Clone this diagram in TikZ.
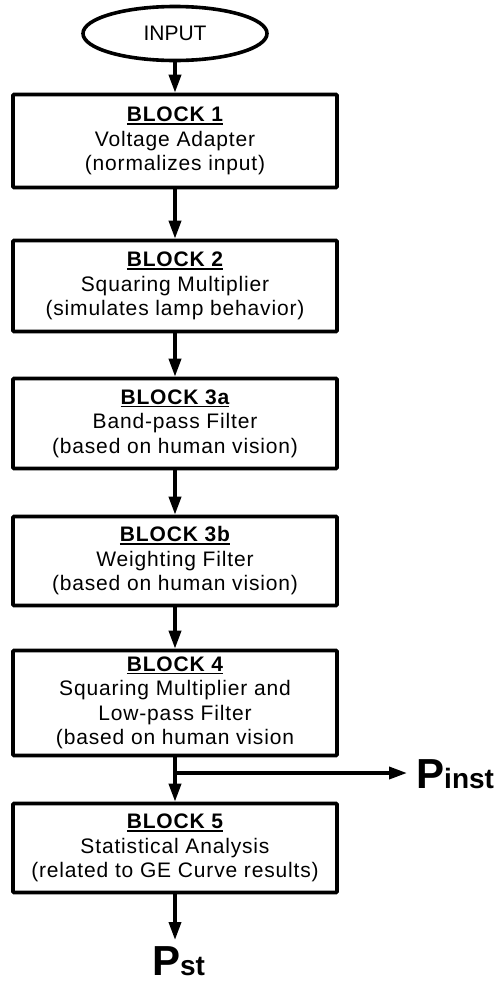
\documentclass[tikz,border=0pt]{standalone}
\usepackage{fontspec}
\setmainfont{Liberation Sans}
\newfontfamily\boxfont[LetterSpace=4]{Liberation Sans}
\usetikzlibrary{arrows.meta,shapes.geometric}

% bold, underlined block heading
\newcommand\blocktitle[1]{\setbox0=\hbox{\bfseries #1}\rlap{\raisebox{-3pt}{\rule{\wd0}{1.5pt}}}\box0}

\tikzset{
  blockbox/.style={draw, line width=3.6pt, minimum width=324pt, align=center,
    inner sep=0pt, rounded corners=1pt,
    font=\boxfont\fontsize{21}{24.5}\selectfont},
  startnode/.style={ellipse, draw, line width=3.6pt, minimum width=184pt,
    minimum height=54pt, inner sep=0pt, font=\fontsize{21}{24}\selectfont},
  arr/.style={line width=3.6pt, -{Triangle[length=18pt,width=12pt]}},
  outlabel/.style={inner sep=0pt, font=\bfseries}
}

\begin{document}
\begin{tikzpicture}[x=1pt,y=-1pt]
\useasboundingbox (0,0) rectangle (500,983);

\node[startnode] (in) at (175,33.5) {INPUT};

\node[blockbox, minimum height=93pt] (b1) at (175,141)
  {\blocktitle{BLOCK 1}\\Voltage Adapter\\(normalizes input)};
\node[blockbox, minimum height=91pt] (b2) at (175,286)
  {\blocktitle{BLOCK 2}\\Squaring Multiplier\\(simulates lamp behavior)};
\node[blockbox, minimum height=90pt] (b3a) at (175,423.5)
  {\blocktitle{BLOCK 3a}\\Band-pass Filter\\(based on human vision)};
\node[blockbox, minimum height=89pt] (b3b) at (175,561)
  {\blocktitle{BLOCK 3b}\\Weighting Filter\\(based on human vision)};
\node[blockbox, minimum height=105pt] (b4) at (175,703)
  {\blocktitle{BLOCK 4}\\Squaring Multiplier and\\Low-pass Filter\\(based on human vision};
\node[blockbox, minimum height=89pt] (b5) at (175,848)
  {\blocktitle{BLOCK 5}\\Statistical Analysis\\(related to GE Curve results)};

\node[outlabel, anchor=base west] (pinst) at (416,788)
  {\fontsize{42}{42}\selectfont P\fontsize{28}{28}\selectfont inst};
\node[outlabel, anchor=base] (pst) at (178.5,975)
  {\fontsize{42}{42}\selectfont P\fontsize{28}{28}\selectfont st};

\coordinate (j) at (175,773);
\coordinate (tipinst) at (407,773);
\coordinate (tipst) at (175,940);

\draw[arr] (in.south) -- (b1.north);
\draw[arr] (b1.south) -- (b2.north);
\draw[arr] (b2.south) -- (b3a.north);
\draw[arr] (b3a.south) -- (b3b.north);
\draw[arr] (b3b.south) -- (b4.north);
\draw[arr] (b4.south) -- (b5.north);
\draw[arr] (j) -- (tipinst);
\draw[arr] (b5.south) -- (tipst);
\end{tikzpicture}
\end{document}
